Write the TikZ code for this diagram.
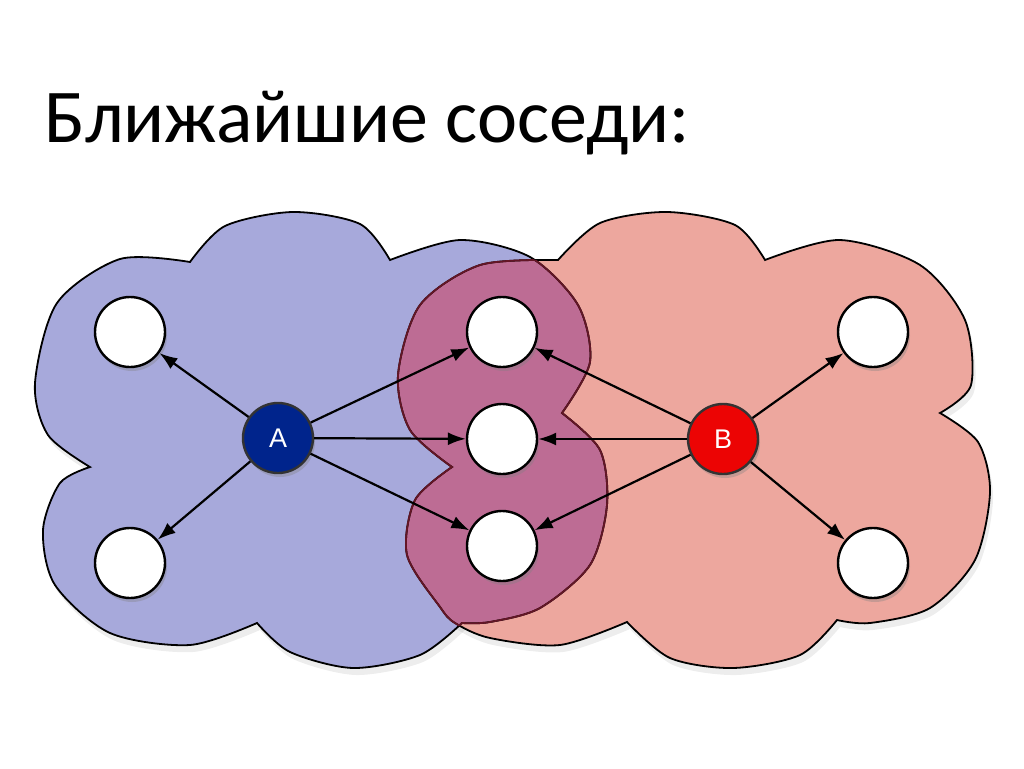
\documentclass[tikz,border=0pt]{standalone}
\usepackage{fontspec}
\setmainfont{Carlito}
\newfontfamily\labelfont{Liberation Sans}
\usetikzlibrary{arrows.meta,shadows}
\definecolor{cloud_blue}{RGB}{167,169,219}
\definecolor{cloud_red}{RGB}{237,167,158}
\definecolor{cloud_mix}{RGB}{189,108,148}
\definecolor{edge_mix}{RGB}{100,22,38}
\definecolor{node_a}{RGB}{0,36,140}
\definecolor{node_b}{RGB}{236,4,4}
\tikzstyle{wn}=[circle,fill=white,draw=black,line width=2.4pt,minimum size=70pt,
  inner sep=0pt,drop shadow={shadow xshift=2pt,shadow yshift=-4pt,opacity=0.35}]
\tikzstyle{an}=[circle,fill=node_a,draw=black!80,line width=2.4pt,minimum size=70pt,
  inner sep=0pt,text=white,font=\labelfont\fontsize{27}{27}\selectfont,
  drop shadow={shadow xshift=2pt,shadow yshift=-4pt,opacity=0.35}]
\tikzstyle{bn}=[an,fill=node_b]
\tikzstyle{arr}=[-{Latex[length=18pt,width=13pt]},line width=2.2pt]
\newcommand\bluecloud{plot[smooth] coordinates {(90,467) (48,435) (35,383) (57,303) (120,259) (190,262)}
  -- plot[smooth] coordinates {(190,262) (225,226) (293,212) (360,224) (390,260)}
  -- plot[smooth] coordinates {(390,260) (460,240) (530,257) (578,305) (590,362) (562,413)}
  -- plot[smooth] coordinates {(562,413) (600,450) (607,505) (590,565) (540,608) (490,622) (462,623)}
  -- plot[smooth] coordinates {(462,623) (420,655) (353,668) (290,652) (257,623)}
  -- plot[smooth] coordinates {(257,623) (190,645) (110,633) (55,585) (43,530) (60,483) (90,467)}
  -- cycle}
\newcommand\redcloud{plot[smooth] coordinates {(452,467) (410,430) (398,375) (420,305) (480,265) (558,260)}
  -- plot[smooth] coordinates {(558,260) (600,223) (667,212) (735,225) (765,260)}
  -- plot[smooth] coordinates {(765,260) (840,240) (920,265) (965,320) (971,385) (940,413)}
  -- plot[smooth] coordinates {(940,413) (978,442) (990,492) (975,560) (930,608) (870,623) (837,620)}
  -- plot[smooth] coordinates {(837,620) (800,655) (733,668) (670,658) (627,622)}
  -- plot[smooth] coordinates {(627,622) (560,645) (490,638) (455,623) (440,607) (407,555) (415,500) (452,467)}
  -- cycle}
\begin{document}
\begin{tikzpicture}[x=1pt,y=-1pt]
    \useasboundingbox[fill=white] (0,0) rectangle (1024,768);
    \node [anchor=base west,inner sep=0pt,font=\fontsize{76}{90}\selectfont] (title) at (44,142) {Ближайшие соседи:};
    % clouds
    \fill [black,opacity=0.07,shift={(3,7)}] \bluecloud;
    \fill [black,opacity=0.07,shift={(3,7)}] \redcloud;
    \fill [cloud_blue] \bluecloud;
    \fill [cloud_red] \redcloud;
    \begin{scope}
      \clip \bluecloud;
      \fill [cloud_mix] \redcloud;
    \end{scope}
    \draw [line width=1.8pt] \bluecloud;
    \draw [line width=1.8pt] \redcloud;
    \begin{scope}
      \clip \bluecloud;
      \draw [edge_mix,line width=1.8pt] \redcloud;
    \end{scope}
    \begin{scope}
      \clip \redcloud;
      \draw [edge_mix,line width=1.8pt] \bluecloud;
    \end{scope}
    % nodes
    \node [style=an] (a) at (278,438) {A};
    \node [style=bn] (b) at (723,439) {B};
    \node [style=wn] (ltop) at (130,332) {};
    \node [style=wn] (lbot) at (130,563) {};
    \node [style=wn] (mtop) at (502,332) {};
    \node [style=wn] (mmid) at (502,439) {};
    \node [style=wn] (mbot) at (502,546) {};
    \node [style=wn] (rtop) at (873,332) {};
    \node [style=wn] (rbot) at (873,563) {};
    \draw [style=arr] (a) to (ltop);
    \draw [style=arr] (a) to (lbot);
    \draw [style=arr] (a) to (mtop);
    \draw [style=arr] (a) to (mmid);
    \draw [style=arr] (a) to (mbot);
    \draw [style=arr] (b) to (mtop);
    \draw [style=arr] (b) to (mmid);
    \draw [style=arr] (b) to (mbot);
    \draw [style=arr] (b) to (rtop);
    \draw [style=arr] (b) to (rbot);
\end{tikzpicture}
\end{document}
